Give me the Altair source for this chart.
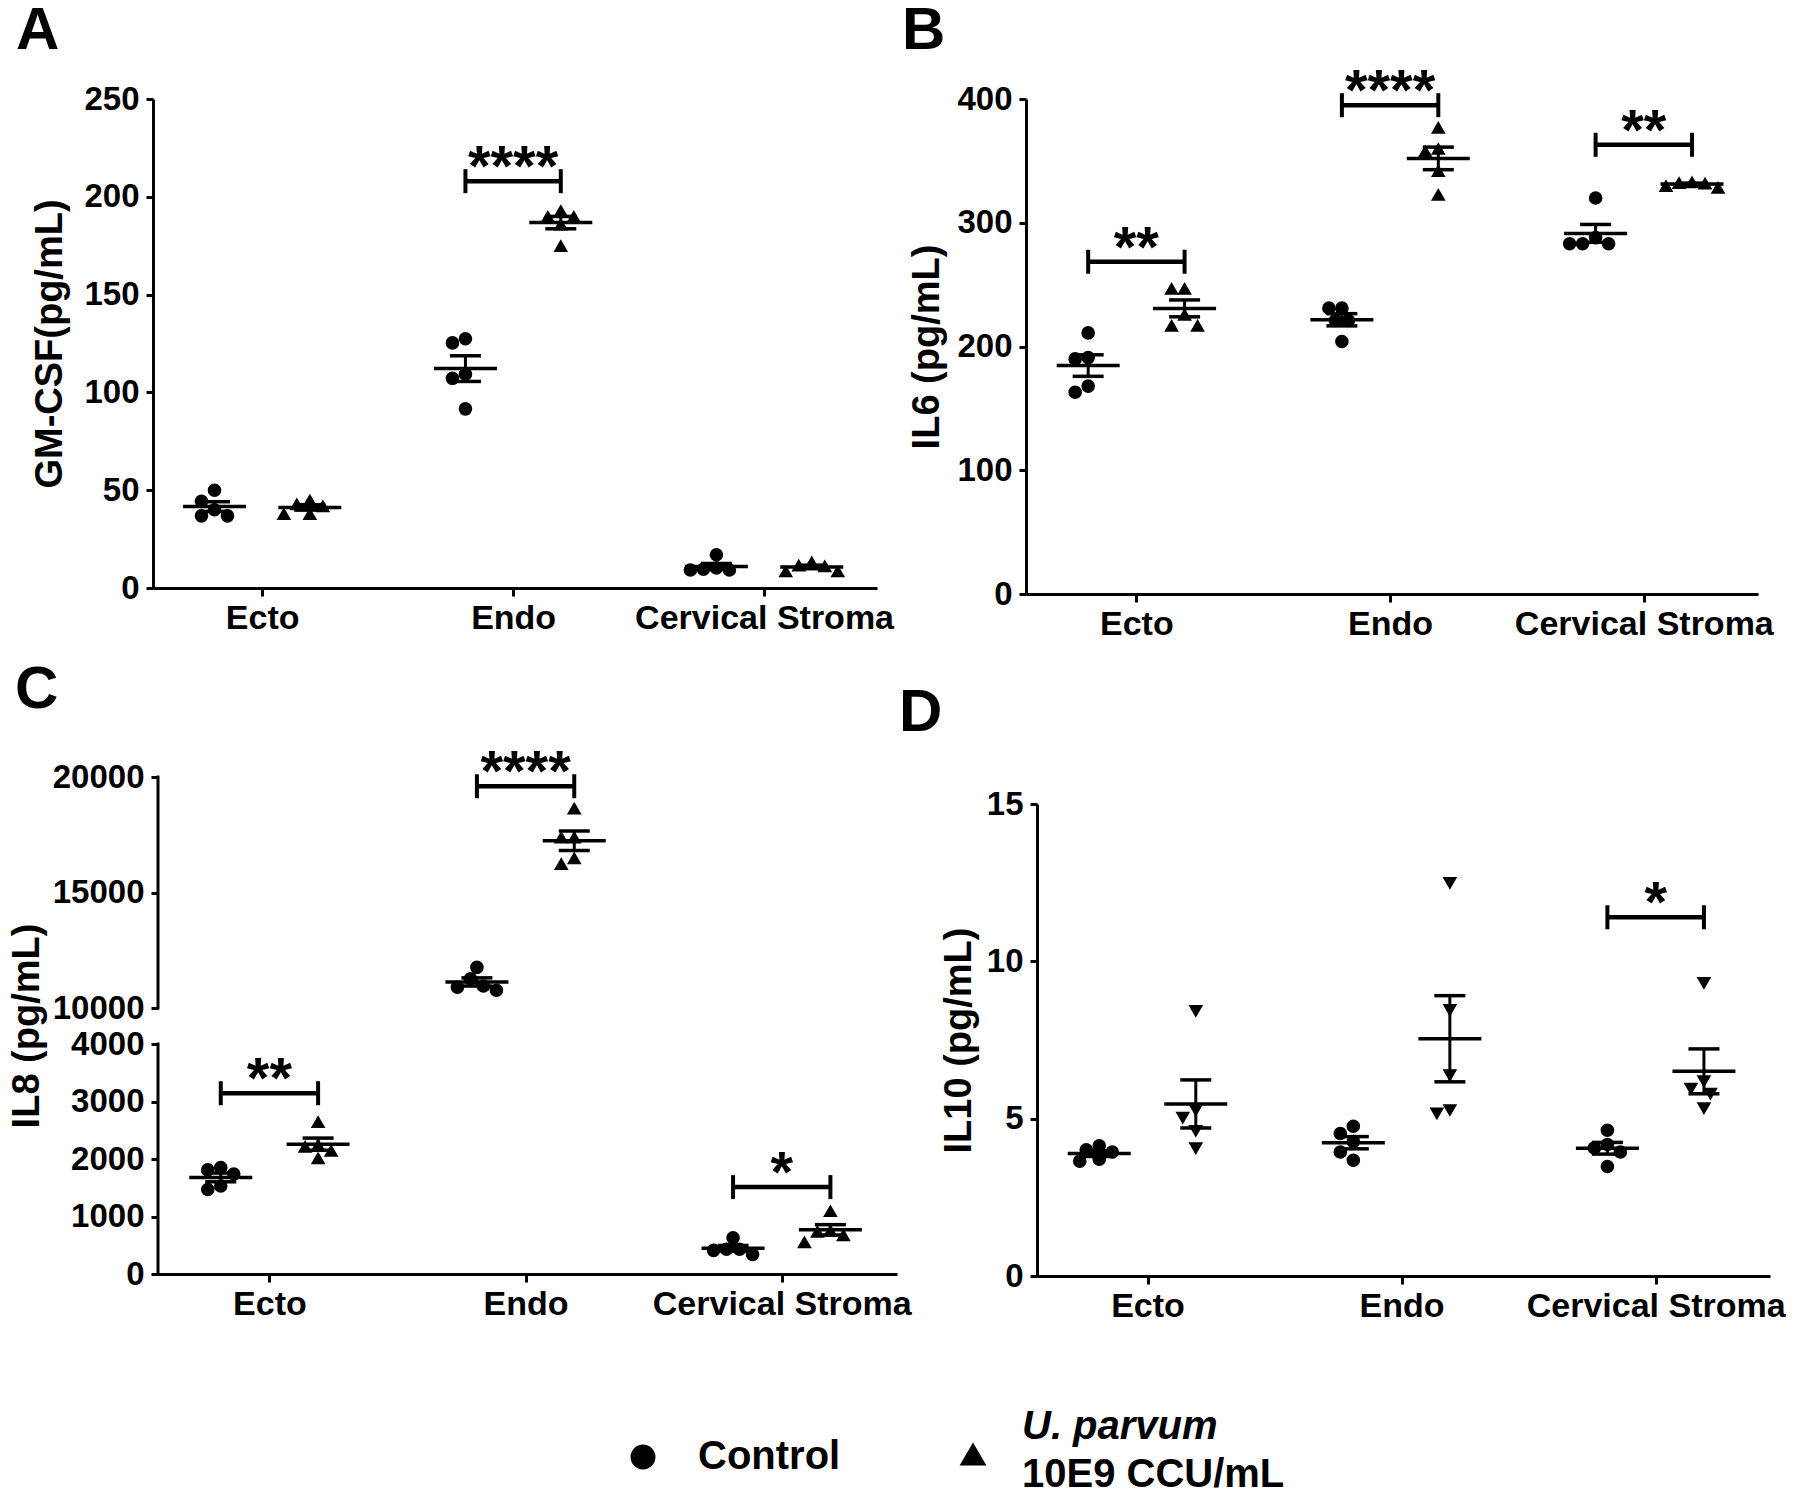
import altair as alt
import numpy as np
import pandas as pd

# ---------------- data ----------------
categories = ["Ecto", "Endo", "Cervical Stroma"]

gmcsf_control = [[50, 44.3, 40, 36.9, 36.9], [127.4, 125.3, 109.3, 107.2, 91.6], [17, 10.2, 9.6, 9.2, 9.2]]
gmcsf_uparvum = [[45, 43, 42, 38, 38], [193, 190, 190, 186, 175], [13.4, 11.7, 11.3, 8.7, 8.7]]
gmcsf_brackets = [(2, 208, "****")]
gmcsf_ticks = [0, 50, 100, 150, 200, 250]

il6_control = [[211, 191, 190, 168, 163], [231, 231, 221, 221, 204], [320, 288, 283, 283, 283]]
il6_uparvum = [[247, 247, 226, 217, 217], [377, 360, 358, 342, 323], [333, 332.5, 332, 330, 328.6]]
il6_brackets = [(1, 268.5, "**"), (2, 395, "****"), (3, 363, "**")]
il6_ticks = [0, 100, 200, 300, 400]

il8_control = [[1850, 1810, 1740, 1530, 1470], [11760, 11260, 10950, 10900, 10770], [630, 430, 430, 410, 340]]
il8_uparvum = [[2650, 2250, 2220, 2150, 2020], [18650, 17400, 17400, 16500, 16250], [1100, 760, 740, 680, 560]]
il8_brackets = [(1, 3144, "**"), (2, 19600, "****"), (3, 1511, "*")]
il8_ticks = [0, 1000, 2000, 3000, 4000, 10000, 15000, 20000]
il8_segments = [(0, 4000), (10000, 20000)]

il10_control = [[4.14, 4.01, 3.94, 3.71, 3.65], [4.76, 4.53, 4.27, 3.94, 3.68], [4.63, 4.18, 4.07, 3.94, 3.48]]
il10_uparvum = [[8.41, 5.26, 5.02, 4.6, 4.05], [12.48, 8.44, 6.37, 5.26, 5.15], [9.3, 6.18, 5.94, 5.78, 5.32]]
il10_brackets = [(3, 11.4, "*")]
il10_ticks = [0, 5, 10, 15]

legend_labels = ["Control", "U. parvum", "10E9 CCU/mL"]

# ---------------- styling ----------------
FONT = "Liberation Sans"
X_DOMAIN = [0.565, 3.45]
GROUP_OFFSET = 0.19

label_expr = "datum.value == 1 ? '%s' : datum.value == 2 ? '%s' : '%s'" % tuple(categories)


def swarm_offsets(values, to_px, min_dist=13.0, step=6.5):
    ys = [float(to_px(v)) for v in values]
    order = sorted(range(len(values)), key=lambda i: -ys[i])
    cands = [0]
    for k in range(1, 8):
        cands += [-k, k]
    placed, res = [], [0.0] * len(values)
    for i in order:
        dx = 0.0
        for k in cands:
            dx = k * step
            if all((dx - px) ** 2 + (ys[i] - py) ** 2 >= min_dist ** 2 for px, py in placed):
                break
        placed.append((dx, ys[i]))
        res[i] = dx
    return res


def build_panel(control, uparvum, up_shape, y_title, y_domain, y_range, y_ticks,
                width, height, x_range, brackets, letter, letter_xy,
                y_offset=0, segments=None, title_pad=8):
    x_ppu = (x_range[1] - x_range[0]) / (X_DOMAIN[1] - X_DOMAIN[0])
    up_px = [y_range[0] - r for r in y_range]

    def to_px(v):
        return np.interp(v, y_domain, up_px)

    ctrl_rows, up_rows, stats = [], [], []
    for ci in range(len(categories)):
        for sign, vals, rows in ((-1, control[ci], ctrl_rows), (1, uparvum[ci], up_rows)):
            center = ci + 1 + sign * GROUP_OFFSET
            offs = swarm_offsets(vals, to_px)
            for v, o in zip(vals, offs):
                rows.append({"x": center + o / x_ppu, "y": v})
            arr = np.array(vals, dtype=float)
            m = arr.mean()
            se = arr.std(ddof=1) / np.sqrt(len(arr))
            stats.append({"x": center, "mean": m, "lo": m - se, "hi": m + se})
    stats_df = pd.DataFrame(stats)
    caps_df = pd.concat([stats_df[["x", "lo"]].rename(columns={"lo": "y"}),
                         stats_df[["x", "hi"]].rename(columns={"hi": "y"})])
    br_df = pd.DataFrame([{"x": c, "x1": c - GROUP_OFFSET, "x2": c + GROUP_OFFSET, "y": y, "label": s}
                          for c, y, s in brackets])
    br_ends = pd.concat([br_df[["x1", "y"]].rename(columns={"x1": "x"}),
                         br_df[["x2", "y"]].rename(columns={"x2": "x"})])

    xscale = alt.Scale(domain=X_DOMAIN, range=x_range, nice=False, zero=False)
    xaxis = alt.Axis(values=[1, 2, 3], labelExpr=label_expr, title=None)
    yscale = alt.Scale(domain=y_domain, range=y_range, nice=False, zero=False)
    yaxis = alt.Axis(values=y_ticks, title=y_title, offset=y_offset, domain=segments is None,
                     format="d", titlePadding=title_pad)

    def X(f):
        return alt.X(f, type="quantitative", scale=xscale, axis=xaxis)

    def Y(f):
        return alt.Y(f, type="quantitative", scale=yscale, axis=yaxis)

    layers = []
    if segments is not None:
        seg_df = pd.DataFrame([{"y": a, "y2": b} for a, b in segments])
        layers.append(alt.Chart(seg_df).mark_rule(strokeWidth=3, color="black", strokeCap="square").encode(
            x=alt.datum(X_DOMAIN[0], type="quantitative", scale=xscale, axis=xaxis),
            y=Y("y"), y2=alt.Y2("y2")))
    layers += [
        alt.Chart(pd.DataFrame(ctrl_rows)).mark_point(
            shape="circle", filled=True, size=185, color="black", opacity=1, strokeWidth=0
        ).encode(x=X("x"), y=Y("y")),
        alt.Chart(pd.DataFrame(up_rows)).mark_point(
            shape=up_shape, filled=True, size=215, color="black", opacity=1, strokeWidth=0
        ).encode(x=X("x"), y=Y("y")),
        alt.Chart(stats_df).mark_tick(orient="horizontal", size=63, thickness=3.5, color="black", opacity=1
                                      ).encode(x=X("x"), y=Y("mean")),
        alt.Chart(stats_df).mark_rule(strokeWidth=3, color="black").encode(x=X("x"), y=Y("lo"), y2=alt.Y2("hi")),
        alt.Chart(caps_df).mark_tick(orient="horizontal", size=31, thickness=3.5, color="black", opacity=1
                                     ).encode(x=X("x"), y=Y("y")),
        alt.Chart(br_df).mark_rule(strokeWidth=4.5, color="black").encode(x=X("x1"), x2=alt.X2("x2"), y=Y("y")),
        alt.Chart(br_ends).mark_tick(orient="vertical", size=24, thickness=4, color="black", opacity=1
                                     ).encode(x=X("x"), y=Y("y")),
        alt.Chart(br_df).mark_text(font=FONT, fontSize=58, fontWeight="bold", baseline="alphabetic",
                                   align="center", dy=5, color="black"
                                   ).encode(x=X("x"), y=Y("y"), text="label:N"),
        alt.Chart(pd.DataFrame({"t": [letter]})).mark_text(
            font=FONT, fontSize=60, fontWeight="bold", align="left", baseline="alphabetic", color="black"
        ).encode(text="t:N", x=alt.value(letter_xy[0]), y=alt.value(letter_xy[1])),
    ]
    return alt.layer(*layers).properties(width=width, height=height)


panel_a = build_panel(gmcsf_control, gmcsf_uparvum, "triangle-up", "GM-CSF(pg/mL)",
                      [0, 250], [489, 0], gmcsf_ticks, 724, 489, [0, 724],
                      gmcsf_brackets, "A", (-137, -50), title_pad=14)
panel_b = build_panel(il6_control, il6_uparvum, "triangle-up", "IL6 (pg/mL)",
                      [0, 400], [495, 0], il6_ticks, 732, 495, [0, 732],
                      il6_brackets, "B", (-124, -50), title_pad=10)
panel_c = build_panel(il8_control, il8_uparvum, "triangle-up", "IL8 (pg/mL)",
                      [0, 4000, 10000, 20000], [497, 267, 231, 0], il8_ticks, 744, 497, [5, 744],
                      il8_brackets, "C", (-138, -69), y_offset=-5, segments=il8_segments, title_pad=6)
panel_d = build_panel(il10_control, il10_uparvum, "triangle-down", "IL10 (pg/mL)",
                      [0, 15], [499, 27], il10_ticks, 744, 499, [11, 744],
                      il10_brackets, "D", (-127, -46), y_offset=-11, title_pad=8)

# ---------------- legend ----------------
lx = alt.Scale(domain=[0, 1], range=[490, 820])
leg_x = alt.X("pos:Q", scale=lx, axis=None)
legend = alt.layer(
    alt.Chart(pd.DataFrame({"pos": [0]})).mark_point(
        shape="circle", filled=True, size=620, color="black", opacity=1, strokeWidth=0
    ).encode(x=leg_x, y=alt.value(2)),
    alt.Chart(pd.DataFrame({"pos": [1]})).mark_point(
        shape="triangle-up", filled=True, size=720, color="black", opacity=1, strokeWidth=0
    ).encode(x=leg_x, y=alt.value(-1)),
    alt.Chart(pd.DataFrame({"pos": [0], "t": [legend_labels[0]]})).mark_text(
        font=FONT, fontSize=40, fontWeight="bold", align="left", baseline="middle", dx=55, color="black"
    ).encode(x=leg_x, y=alt.value(2), text="t:N"),
    alt.Chart(pd.DataFrame({"pos": [1], "t": [legend_labels[1]]})).mark_text(
        font=FONT, fontSize=40, fontWeight="bold", fontStyle="italic", align="left", baseline="middle",
        dx=49, color="black"
    ).encode(x=leg_x, y=alt.value(-28), text="t:N"),
    alt.Chart(pd.DataFrame({"pos": [1], "t": [legend_labels[2]]})).mark_text(
        font=FONT, fontSize=40, fontWeight="bold", align="left", baseline="middle", dx=49, color="black"
    ).encode(x=leg_x, y=alt.value(20), text="t:N"),
).properties(width=745, height=1)

row1 = alt.hconcat(panel_a, panel_b, spacing=149, bounds="flush")
row2 = alt.hconcat(panel_c, panel_d, spacing=129, bounds="flush")

chart = alt.vconcat(row1, row2, legend, spacing=678, bounds="flush").properties(
    padding={"left": 0, "top": -7, "right": 5, "bottom": 5}
).configure_view(strokeWidth=0).configure_axis(
    labelFont=FONT, labelFontWeight="bold", labelColor="black",
    titleFont=FONT, titleFontWeight="bold", titleColor="black",
    domainColor="black", tickColor="black", domainWidth=3, tickWidth=3,
    grid=False, labelOverlap=False, labelFlush=False, labelBound=False, labelLimit=600,
).configure_axisX(
    labelFontSize=34, tickSize=8, labelPadding=5
).configure_axisY(
    labelFontSize=33, tickSize=7, labelPadding=7, titleFontSize=38
)

chart.save("out.html", embed_options={"renderer": "svg", "actions": False})
